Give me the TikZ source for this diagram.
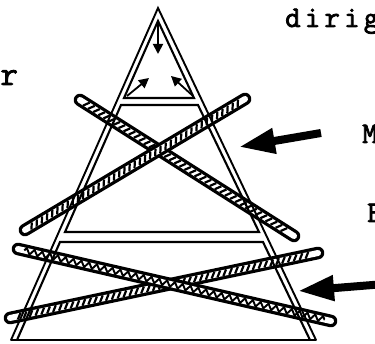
\documentclass[tikz,border=0pt]{standalone}
\usepackage{fontspec}
\newfontfamily\tw[LetterSpace=14, FakeBold=2.5]{Latin Modern Mono}
\usetikzlibrary{arrows.meta,decorations.pathmorphing,decorations.markings}
\tikzset{
  leg/.style={line width=1.9pt, line cap=round, line join=miter},
  inner/.style={line width=2.1pt, line join=miter},
  bandline/.style={draw=black, line width=3.3pt, double=white, double distance=6pt, line cap=round},
  slash/.style={decorate, decoration={markings, mark=between positions 0.03 and 0.97 step 6pt with {\draw[line width=2.2pt] (-2pt,-3pt) -- (2pt,3pt);}}},
  zig/.style={line width=1.9pt, decorate, decoration={zigzag, segment length=8pt, amplitude=2.9pt}},
  bigarrow/.style={line width=8pt, -{Triangle[length=36pt, width=24pt]}},
  smallarrow/.style={line width=1.8pt, -{Triangle[length=10pt, width=10pt]}},
  txt/.style={inner sep=0pt, font=\tw\fontsize{30}{30}\selectfont},
}
\begin{document}
\begin{tikzpicture}[x=1pt, y=-1pt]
\useasboundingbox (0,0) rectangle (375,344);
\fill[white] (0,0) rectangle (375,344);
\clip (0,0) rectangle (375,344);

% named points
\coordinate (apex) at (158,8);
\coordinate (bl) at (11,340);
\coordinate (br) at (316,340);
% bands
\coordinate (b1s) at (80,100);  \coordinate (b1e) at (294,236);
\coordinate (b2s) at (25,230);  \coordinate (b2e) at (245,99);
\coordinate (b3s) at (18,249);  \coordinate (b3e) at (331,321);
\coordinate (b4s) at (10,318);  \coordinate (b4e) at (318,253);

% upper bands
\draw[bandline] (b1s) -- (b1e);
\path[slash] (b1s) -- (b1e);
\draw[bandline] (b2s) -- (b2e);
\path[slash] (b2s) -- (b2e);
% lower bands
\draw[bandline] (b4s) -- (b4e);
\path[slash] (b4s) -- (b4e);
\draw[bandline] (b3s) -- (b3e);
\path (b3s) -- (b3e) coordinate[pos=0.02] (z3a) coordinate[pos=0.98] (z3b);
\draw[zig] (z3a) -- (z3b);

% outer triangle
\draw[leg] (bl) -- (apex) -- (br);
\draw[inner] (bl) -- (br);

% inner top triangle
\coordinate (ta) at (158,21);
\coordinate (tl) at (124,98);
\coordinate (tr) at (194,98);
\draw[inner] (tl) -- (ta) -- (tr) -- cycle;
% inner middle trapezoid
\coordinate (m1) at (121,105);
\coordinate (m2) at (198,105);
\coordinate (m3) at (259,232);
\coordinate (m4) at (65,232);
\draw[inner] (m1) -- (m2) -- (m3) -- (m4) -- cycle;
% inner lower trapezoid
\coordinate (l1) at (60,242);
\coordinate (l2) at (263,242);
\coordinate (l3) at (310,340);
\coordinate (l4) at (17,340);
\draw[inner] (l4) -- (l1) -- (l2) -- (l3);

% small arrows in the top triangle
\coordinate (va) at (158,24);  \coordinate (vb) at (158,54);
\coordinate (la) at (127,96);  \coordinate (lb) at (149,78);
\coordinate (ra) at (193,96);  \coordinate (rb) at (171,76);
\draw[smallarrow] (va) -- (vb);
\draw[smallarrow] (la) -- (lb);
\draw[smallarrow] (ra) -- (rb);

% big arrows
\coordinate (a1t) at (321,133); \coordinate (a1h) at (239,147);
\coordinate (a2t) at (385,284); \coordinate (a2h) at (298,291);
\draw[bigarrow] (a1t) -- (a1h);
\draw[bigarrow] (a2t) -- (a2h);

% texts
\node[txt, anchor=base west] (t1) at (285,27) {dirig};
\node[txt, anchor=base west, font=\tw\fontsize{34}{34}\selectfont] (t2) at (-22,85) {ar};
\node[txt, anchor=base west] (t3) at (362,143) {M};
\node[txt, anchor=base west] (t4) at (367,222) {E};
\end{tikzpicture}
\end{document}
